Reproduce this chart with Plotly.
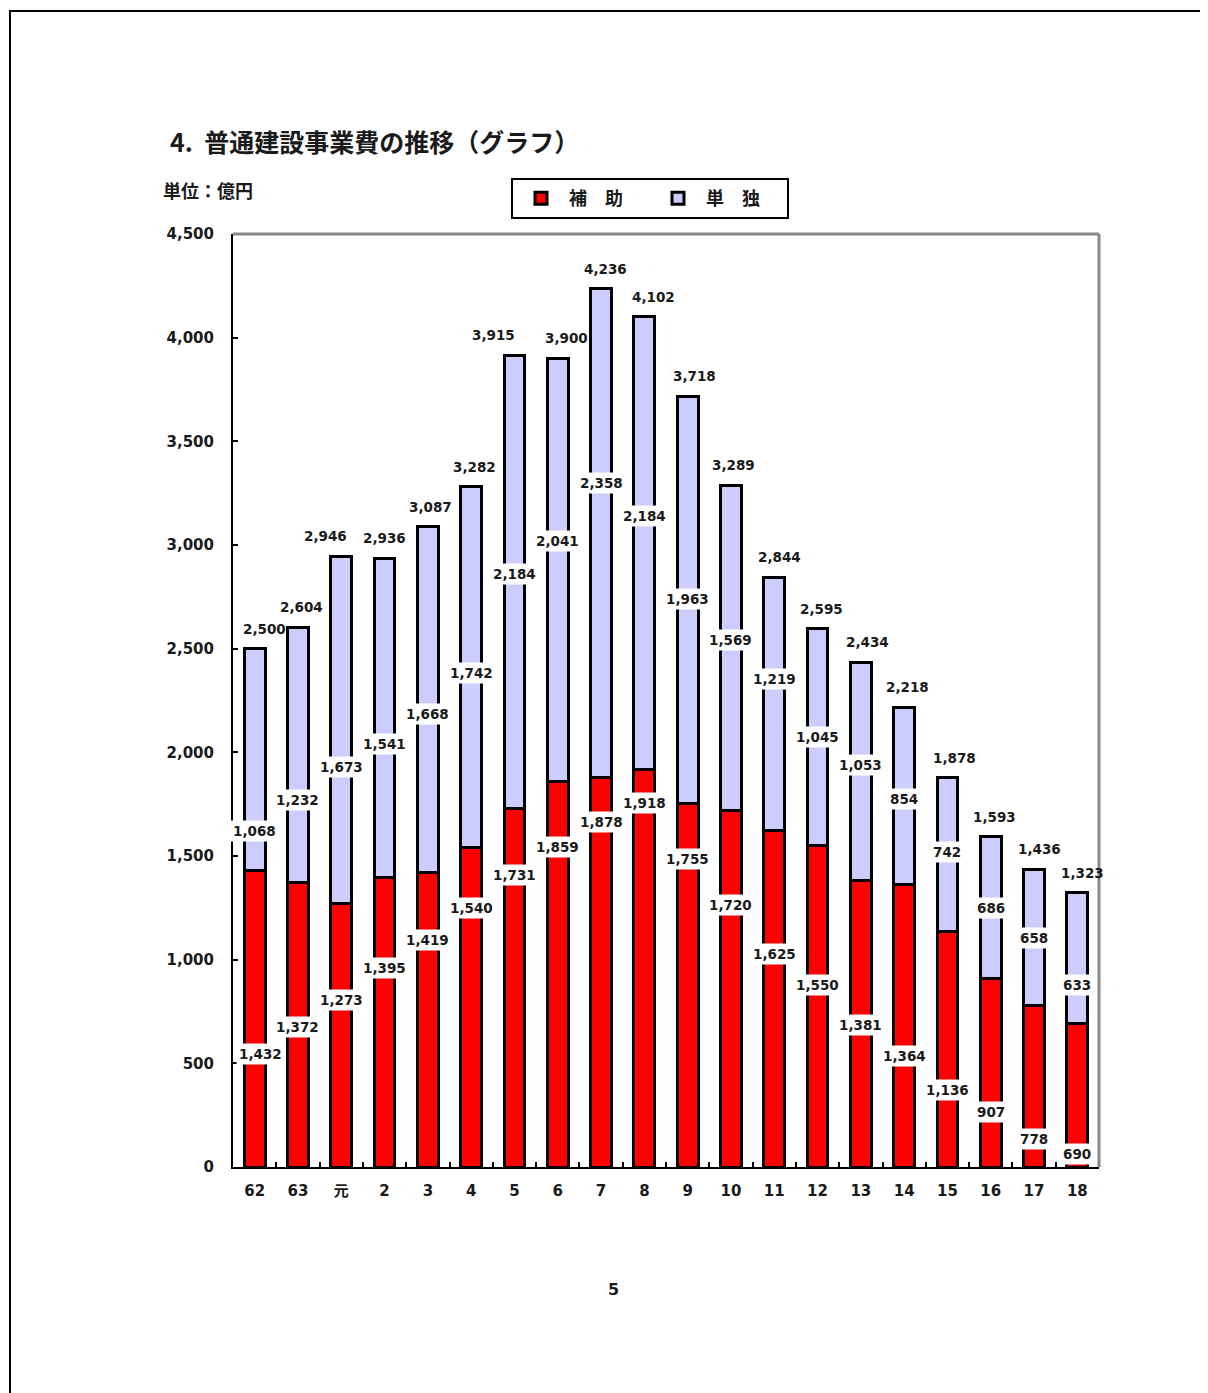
import plotly.graph_objects as go

# ---- data ----
years = ["62", "63", "元", "2", "3", "4", "5", "6", "7", "8",
         "9", "10", "11", "12", "13", "14", "15", "16", "17", "18"]
hojo = [1432, 1372, 1273, 1395, 1419, 1540, 1731, 1859, 1878, 1918,
        1755, 1720, 1625, 1550, 1381, 1364, 1136, 907, 778, 690]
tandoku = [1068, 1232, 1673, 1541, 1668, 1742, 2184, 2041, 2358, 2184,
           1963, 1569, 1219, 1045, 1053, 854, 742, 686, 658, 633]
totals = [2500, 2604, 2946, 2936, 3087, 3282, 3915, 3900, 4236, 4102,
          3718, 3289, 2844, 2595, 2434, 2218, 1878, 1593, 1436, 1323]

# label heights (in axis units)
lab_lo_y = [545, 675, 806, 960, 1095, 1249, 1408, 1544, 1664, 1756,
            1486, 1264, 1027, 878, 685, 535, 371, 265, 135, 63]
lab_hi_y = [1621, 1770, 1930, 2040, 2185, 2383, 2860, 3020, 3299, 3140,
            2740, 2542, 2354, 2074, 1939, 1775, 1519, 1249, 1105, 878]
# horizontal nudges (px) of the total labels, as placed in the picture
tot_dx = [10, 4, -16, 0, 3, 3, -21, 9, 4, 9,
          7, 3, 5, 4, 7, 3, 7, 4, 5, 5]

OFF = 8                      # body margin of the page
W, H = 1208 - OFF, 1393 - OFF
L, R, T, B = 233, 1099, 234, 1167   # plot area in screenshot pixels

def px(x):
    return (x - L) / (R - L)

def py(y):
    return (B - y) / (B - T)

FONT = "DejaVu Sans, Noto Sans CJK JP, sans-serif"
JFONT = "Noto Sans CJK JP, DejaVu Sans, sans-serif"
TXT = "#1a1a1a"

fig = go.Figure()
fig.add_bar(x=years, y=hojo, name="補　助",
            marker=dict(color="#ff0000", line=dict(color="black", width=3)),
            width=0.48)
fig.add_bar(x=years, y=tandoku, name="単　独",
            marker=dict(color="#ccccff", line=dict(color="black", width=3)),
            width=0.48)

lab_font = dict(family=FONT, size=13.5, color=TXT, weight="bold")
ann = []
for i in range(len(years)):
    ann.append(dict(x=i, y=lab_lo_y[i], text=f"{hojo[i]:,}", showarrow=False,
                    bgcolor="white", borderpad=2, font=lab_font,
                    xshift=6 if i == 0 else 0))
    ann.append(dict(x=i, y=lab_hi_y[i], text=f"{tandoku[i]:,}", showarrow=False,
                    bgcolor="white", borderpad=2, font=lab_font))
    ann.append(dict(x=i, y=totals[i], text=f"{totals[i]:,}", showarrow=False,
                    yanchor="bottom", yshift=10, xshift=tot_dx[i], font=lab_font))

ann.append(dict(xref="paper", yref="paper", x=px(168), y=py(141),
                xanchor="left", yanchor="middle", showarrow=False,
                text="4.  普通建設事業費の推移（グラフ）",
                font=dict(family=JFONT, size=25, color=TXT, weight="bold")))
ann.append(dict(xref="paper", yref="paper", x=px(161), y=py(190),
                xanchor="left", yanchor="middle", showarrow=False,
                text="単位：億円",
                font=dict(family=JFONT, size=18, color=TXT, weight="bold")))
ann.append(dict(xref="paper", yref="paper", x=px(613), y=py(1289),
                xanchor="center", yanchor="middle", showarrow=False,
                text="5",
                font=dict(family=FONT, size=16, color=TXT, weight="bold")))

shapes = [
    # page border
    dict(type="rect", xref="paper", yref="paper",
         x0=px(10), x1=px(1300), y0=py(1500), y1=py(11),
         line=dict(color="black", width=2), layer="below"),
    # grey plot frame (top and right)
    dict(type="line", xref="paper", yref="paper", x0=0, x1=1, y0=1, y1=1,
         line=dict(color="#888888", width=3)),
    dict(type="line", xref="paper", yref="paper", x0=1, x1=1, y0=0, y1=1,
         line=dict(color="#888888", width=3)),
]

fig.update_layout(
    width=W, height=H,
    margin=dict(l=L - OFF, r=W - (R - OFF), t=T - OFF, b=H - (B - OFF), pad=0),
    barmode="stack",
    paper_bgcolor="white", plot_bgcolor="white",
    font=dict(family=FONT, color=TXT),
    showlegend=True,
    legend=dict(orientation="h", x=px(511), y=py(178),
                xanchor="left", yanchor="top",
                bordercolor="black", borderwidth=2, bgcolor="white",
                font=dict(family=JFONT, size=18, color=TXT, weight="bold"),
                entrywidth=76, itemwidth=46, traceorder="normal"),
    annotations=ann,
    shapes=shapes,
    xaxis=dict(type="category", range=[-0.5, 19.5], showgrid=False,
               showline=True, linecolor="black", linewidth=2,
               ticks="inside", ticklen=5, tickcolor="black", tickwidth=2,
               tickson="boundaries", ticklabelstandoff=9,
               tickfont=dict(family=FONT, size=15, color=TXT, weight="bold")),
    yaxis=dict(range=[0, 4500], dtick=500, tickformat=",", showgrid=False,
               zeroline=False, showline=True, linecolor="black", linewidth=2,
               ticks="inside", ticklen=5, tickcolor="black", tickwidth=2,
               ticklabelstandoff=14,
               tickfont=dict(family=FONT, size=15, color=TXT, weight="bold")),
)

fig.write_html("out.html")
